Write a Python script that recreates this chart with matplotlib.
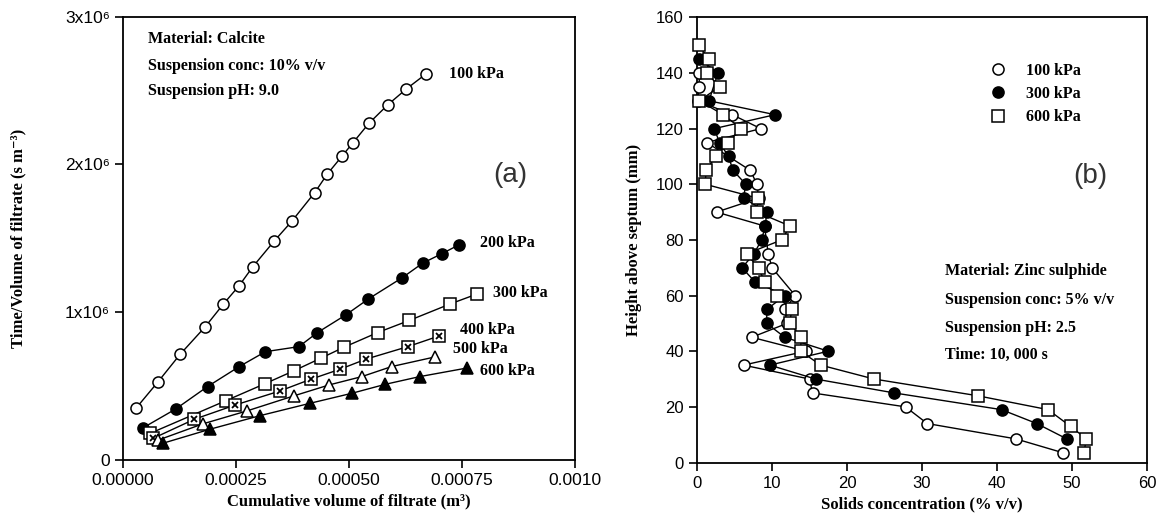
import matplotlib
matplotlib.use("Agg")
import matplotlib.pyplot as plt

# ---- panel (a): time/volume vs cumulative filtrate volume ----
v_100 = [0.0000286, 0.0000769, 0.000126, 0.000182, 0.000222, 0.000257, 0.000287,
         0.000334, 0.000373, 0.000424, 0.000452, 0.000484, 0.000509, 0.000544,
         0.000586, 0.000627, 0.000671]
t_100 = [0.350, 0.527, 0.714, 0.902, 1.055, 1.180, 1.307, 1.480, 1.614, 1.809,
         1.935, 2.054, 2.148, 2.278, 2.404, 2.511, 2.614]

v_200 = [0.0000450, 0.0001165, 0.000187, 0.000257, 0.000315, 0.000389, 0.000430,
         0.000493, 0.000543, 0.000618, 0.000663, 0.000706, 0.000744]
t_200 = [0.219, 0.345, 0.497, 0.632, 0.733, 0.767, 0.862, 0.982, 1.090, 1.234,
         1.332, 1.397, 1.457]

v_300 = [0.0000597, 0.000228, 0.000313, 0.000379, 0.000437, 0.000488, 0.000563,
         0.000633, 0.000723, 0.000783]
t_300 = [0.180, 0.402, 0.515, 0.605, 0.688, 0.762, 0.862, 0.944, 1.055, 1.123]

v_400 = [0.000067, 0.000158, 0.000248, 0.000347, 0.000415, 0.000480, 0.000537,
         0.000630, 0.000699]
t_400 = [0.147, 0.276, 0.372, 0.467, 0.546, 0.614, 0.682, 0.767, 0.839]

v_500 = [0.000078, 0.000176, 0.000274, 0.000379, 0.000456, 0.000528, 0.000594, 0.000691]
t_500 = [0.135, 0.244, 0.332, 0.435, 0.508, 0.564, 0.632, 0.698]

v_600 = [0.0000878, 0.000192, 0.000303, 0.000414, 0.000507, 0.000580, 0.000656, 0.000762]
t_600 = [0.113, 0.208, 0.300, 0.384, 0.452, 0.512, 0.564, 0.623]

a_labels = ["100 kPa", "200 kPa", "300 kPa", "400 kPa", "500 kPa", "600 kPa"]
a_label_x = [0.000721, 0.000789, 0.000819, 0.000746, 0.000730, 0.000789]
a_label_y = [2.612, 1.469, 1.130, 0.880, 0.748, 0.600]

# ---- panel (b): height above septum vs solids concentration ----
h_100 = [140, 135, 130, 125, 120, 115, 105, 100, 95, 90, 85, 75, 70, 60, 55, 50,
         45, 40, 35, 30, 25, 20, 14, 8.5, 3.5]
c_100 = [0.3, 0.3, 0.1, 4.7, 8.5, 1.3, 7.1, 8.0, 8.2, 2.6, 9.0, 9.5, 10.0, 13.1,
         11.7, 12.0, 7.3, 14.5, 6.2, 15.0, 15.4, 27.8, 30.7, 42.5, 48.8]

h_300 = [145, 140, 130, 125, 120, 115, 110, 105, 100, 95, 90, 85, 80, 75, 70, 65,
         60, 55, 50, 45, 40, 35, 30, 25, 19, 14, 8.5]
c_300 = [0.3, 2.8, 1.6, 10.4, 2.3, 3.0, 4.2, 4.8, 6.5, 6.2, 9.3, 9.1, 8.6, 7.6,
         6.0, 7.7, 11.7, 9.3, 9.3, 11.7, 17.5, 9.7, 15.8, 26.3, 40.6, 45.3, 49.3]

h_600 = [150, 145, 140, 135, 130, 125, 120, 115, 110, 105, 100, 95, 90, 85, 80,
         75, 70, 65, 60, 55, 50, 45, 40, 35, 30, 24, 19, 13, 8.5, 3.5]
c_600 = [0.2, 1.6, 1.3, 3.0, 0.3, 3.5, 5.9, 4.1, 2.5, 1.2, 1.1, 8.1, 8.0, 12.4,
         11.3, 6.6, 8.2, 9.0, 10.6, 12.6, 12.4, 13.9, 13.8, 16.5, 23.6, 37.4,
         46.8, 49.8, 51.9, 51.6]

serif = ["Liberation Serif", "DejaVu Serif"]
sans = ["Liberation Sans", "DejaVu Sans"]
plt.rcParams["font.family"] = sans
plt.rcParams["axes.linewidth"] = 1.3

fig = plt.figure(figsize=(11.64, 5.31), dpi=100)
ax1 = fig.add_axes([0.1057, 0.1337, 0.3883, 0.835])
ax2 = fig.add_axes([0.5988, 0.129, 0.3866, 0.8384])

mk = dict(color="black", lw=1.0, ms=8, mew=1.1)
txt = dict(family=serif, fontweight="bold", fontsize=11.5, va="center")

ax1.plot(v_100, [t * 1e6 for t in t_100], marker="o", mfc="white", **mk)
ax1.plot(v_200, [t * 1e6 for t in t_200], marker="o", mfc="black", **mk)
ax1.plot(v_300, [t * 1e6 for t in t_300], marker="s", mfc="white", **mk)
ax1.plot(v_400, [t * 1e6 for t in t_400], marker="s", mfc="white", **mk)
ax1.plot(v_400, [t * 1e6 for t in t_400], marker="x", ls="none", color="black", ms=5, mew=1.3)
ax1.plot(v_500, [t * 1e6 for t in t_500], marker="^", mfc="white", **mk)
ax1.plot(v_600, [t * 1e6 for t in t_600], marker="^", mfc="black", **mk)

for lab, x, y in zip(a_labels, a_label_x, a_label_y):
    ax1.text(x, y * 1e6, lab, ha="left", **txt)

ax1.text(0.0000548, 2.848e6, "Material: Calcite", **txt)
ax1.text(0.0000548, 2.668e6, "Suspension conc: 10% v/v", **txt)
ax1.text(0.0000548, 2.496e6, "Suspension pH: 9.0", **txt)
ax1.text(0.000856, 1.93e6, "(a)", fontsize=20, color="#333333", ha="center", va="center")

ax1.set_xlim(0, 0.001)
ax1.set_ylim(0, 3e6)
ax1.set_xticks([0, 0.00025, 0.0005, 0.00075, 0.001])
ax1.set_xticklabels(["0.00000", "0.00025", "0.00050", "0.00075", "0.0010"])
ax1.set_yticks([0, 1e6, 2e6, 3e6])
ax1.set_yticklabels(["0", "1x10⁶", "2x10⁶", "3x10⁶"])
ax1.tick_params(direction="out", length=6, width=1.2, labelsize=12.5)
ax1.set_xlabel("Cumulative volume of filtrate (m³)", family=serif, fontweight="bold",
               fontsize=12)
ax1.set_ylabel("Time/Volume of filtrate (s m⁻³)", family=serif, fontweight="bold",
               fontsize=12, labelpad=28)

# markers sitting on the y axis are drawn in full, as in the original
ax2.plot(c_100, h_100, marker="o", mfc="white", label="100 kPa", clip_on=False, zorder=3, **mk)
ax2.plot(c_300, h_300, marker="o", mfc="black", label="300 kPa", clip_on=False, zorder=3, **mk)
ax2.plot(c_600, h_600, marker="s", mfc="white", label="600 kPa", clip_on=False, zorder=3, **mk)

leg = ax2.legend(loc="upper left", bbox_to_anchor=(0.62, 0.93), frameon=False,
                 prop=dict(family=serif, weight="bold", size=11.5), handletextpad=1.2,
                 labelspacing=0.45, handlelength=1.0)
for line in leg.get_lines():
    line.set_linestyle("none")

ax2.text(33.1, 68.7, "Material: Zinc sulphide", **txt)
ax2.text(33.1, 58.4, "Suspension conc: 5% v/v", **txt)
ax2.text(33.1, 48.2, "Suspension pH: 2.5", **txt)
ax2.text(33.1, 38.6, "Time: 10, 000 s", **txt)
ax2.text(52.4, 102.8, "(b)", fontsize=20, color="#333333", ha="center", va="center")

ax2.set_xlim(0, 60)
ax2.set_ylim(0, 160)
ax2.set_xticks([0, 10, 20, 30, 40, 50, 60])
ax2.set_yticks([0, 20, 40, 60, 80, 100, 120, 140, 160])
ax2.tick_params(direction="out", length=6, width=1.2, labelsize=12)
ax2.set_xlabel("Solids concentration (% v/v)", family=serif, fontweight="bold", fontsize=12)
ax2.set_ylabel("Height above septum (mm)", family=serif, fontweight="bold", fontsize=12,
               labelpad=10)

fig.savefig("out.png", dpi=100)
